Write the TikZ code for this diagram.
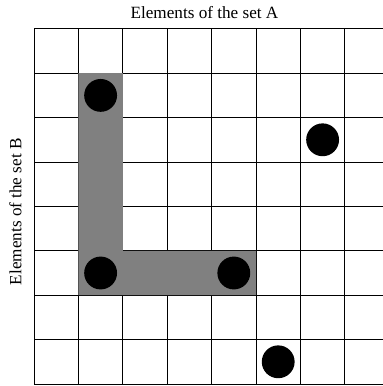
\documentclass[tikz,border=0pt]{standalone}
\usepackage{fontspec}
\setmainfont{Liberation Serif}
\usepackage{tikz}
\usetikzlibrary{positioning}

\begin{document}
\begin{tikzpicture}[line width=0.6pt, font=\fontsize{11}{13}\selectfont]
      % Frame of the picture
      \useasboundingbox (-0.766,-0.045) rectangle (7.86,8.649);
      \clip (-0.766,-0.045) rectangle (7.86,8.649);

      % Grid
      \draw (0,0) grid (8,8);

      % Path through the grid
      \fill[gray] (1,7) -- (2,7) -- (2,3) -- (5,3) -- (5,2) -- (1,2) -- cycle;

      % Elements
      \foreach \x/\y in {1.5/6.5, 6.5/5.5, 1.5/2.5, 4.5/2.5, 5.5/0.5}
        \fill (\x,\y) circle[radius=0.37];

      % Labels
      \node[anchor=base] (setA) at (3.84,8.24) {Elements of the set A};
      \node[rotate=90] (setB) at (-0.42,3.88) {Elements of the set B};
    \end{tikzpicture}
\end{document}
